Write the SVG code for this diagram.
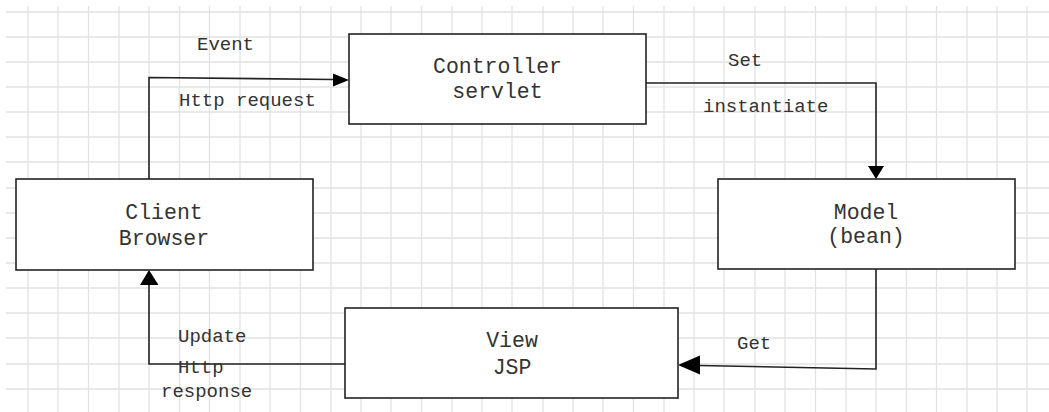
<svg xmlns="http://www.w3.org/2000/svg" width="1049" height="412" viewBox="0 0 1049 412">
  <defs>
    <style>
      .grid line { stroke: #e2e2e2; stroke-width: 1.3; }
      .box { fill: #ffffff; stroke: #222222; stroke-width: 1.6; }
      .node-text { font-family: "Liberation Mono", "DejaVu Sans Mono", monospace; font-size: 21.5px; fill: #333333; text-anchor: middle; }
      .label { font-family: "Liberation Mono", "DejaVu Sans Mono", monospace; font-size: 19px; fill: #333333; }
      .wire { fill: none; stroke: #222222; stroke-width: 1.6; }
      .head { fill: #000000; stroke: none; }
    </style>
  </defs>

  <rect width="1049" height="412" fill="#ffffff"/>

  <!-- background grid -->
  <g class="grid">
    <line x1="6" y1="12" x2="1049" y2="12"/>
    <line x1="6" y1="37" x2="1049" y2="37"/>
    <line x1="6" y1="62" x2="1049" y2="62"/>
    <line x1="6" y1="87" x2="1049" y2="87"/>
    <line x1="6" y1="112" x2="1049" y2="112"/>
    <line x1="6" y1="137" x2="1049" y2="137"/>
    <line x1="6" y1="162" x2="1049" y2="162"/>
    <line x1="6" y1="188" x2="1049" y2="188"/>
    <line x1="6" y1="213" x2="1049" y2="213"/>
    <line x1="6" y1="238" x2="1049" y2="238"/>
    <line x1="6" y1="263" x2="1049" y2="263"/>
    <line x1="6" y1="288" x2="1049" y2="288"/>
    <line x1="6" y1="313" x2="1049" y2="313"/>
    <line x1="6" y1="338" x2="1049" y2="338"/>
    <line x1="6" y1="364" x2="1049" y2="364"/>
    <line x1="6" y1="389" x2="1049" y2="389"/>

    <line x1="28" y1="6" x2="28" y2="412"/>
    <line x1="58" y1="6" x2="58" y2="412"/>
    <line x1="88.5" y1="6" x2="88.5" y2="412"/>
    <line x1="119" y1="6" x2="119" y2="412"/>
    <line x1="149" y1="6" x2="149" y2="412"/>
    <line x1="179.5" y1="6" x2="179.5" y2="412"/>
    <line x1="209.5" y1="6" x2="209.5" y2="412"/>
    <line x1="240" y1="6" x2="240" y2="412"/>
    <line x1="270" y1="6" x2="270" y2="412"/>
    <line x1="300.5" y1="6" x2="300.5" y2="412"/>
    <line x1="331" y1="6" x2="331" y2="412"/>
    <line x1="361" y1="6" x2="361" y2="412"/>
    <line x1="391" y1="6" x2="391" y2="412"/>
    <line x1="421.5" y1="6" x2="421.5" y2="412"/>
    <line x1="452" y1="6" x2="452" y2="412"/>
    <line x1="482" y1="6" x2="482" y2="412"/>
    <line x1="512" y1="6" x2="512" y2="412"/>
    <line x1="543" y1="6" x2="543" y2="412"/>
    <line x1="573" y1="6" x2="573" y2="412"/>
    <line x1="603" y1="6" x2="603" y2="412"/>
    <line x1="633.5" y1="6" x2="633.5" y2="412"/>
    <line x1="664" y1="6" x2="664" y2="412"/>
    <line x1="694" y1="6" x2="694" y2="412"/>
    <line x1="724" y1="6" x2="724" y2="412"/>
    <line x1="755" y1="6" x2="755" y2="412"/>
    <line x1="785" y1="6" x2="785" y2="412"/>
    <line x1="815.5" y1="6" x2="815.5" y2="412"/>
    <line x1="846" y1="6" x2="846" y2="412"/>
    <line x1="876" y1="6" x2="876" y2="412"/>
    <line x1="906.5" y1="6" x2="906.5" y2="412"/>
    <line x1="936.5" y1="6" x2="936.5" y2="412"/>
    <line x1="967" y1="6" x2="967" y2="412"/>
    <line x1="997" y1="6" x2="997" y2="412"/>
    <line x1="1027" y1="6" x2="1027" y2="412"/>
  </g>

  <!-- connectors -->
  <g id="connectors">
    <!-- Client -> Controller -->
    <polyline class="wire" points="149,179 149,77.5 334,79.5"/>
    <polygon class="head" points="349,80 333,73.5 333,86.5"/>
    <text class="label" x="197" y="50">Event</text>
    <text class="label" x="179" y="106">Http request</text>

    <!-- Controller -> Model -->
    <polyline class="wire" points="646,83 876,83 876,166"/>
    <polygon class="head" points="876,179 868,166 884,166"/>
    <text class="label" x="728" y="66">Set</text>
    <text class="label" x="703" y="112">instantiate</text>

    <!-- Model -> View -->
    <polyline class="wire" points="876,269 876,369 699,365.5"/>
    <polygon class="head" points="678,365 700,355.5 700,374.5"/>
    <text class="label" x="737" y="349">Get</text>

    <!-- View -> Client -->
    <polyline class="wire" points="345,364 149,364 149,284"/>
    <polygon class="head" points="149,270 140,285 158.5,285"/>
    <text class="label" x="178" y="342">Update</text>
    <text class="label" x="178" y="373">Http</text>
    <text class="label" x="161" y="397">response</text>
  </g>

  <g id="controller">
    <rect class="box" x="349" y="34" width="297" height="90"/>
    <text class="node-text" x="497.5" y="73">Controller</text>
    <text class="node-text" x="497.5" y="98">servlet</text>
  </g>

  <g id="client">
    <rect class="box" x="16" y="179" width="297" height="91"/>
    <text class="node-text" x="164" y="219">Client</text>
    <text class="node-text" x="164" y="245">Browser</text>
  </g>

  <g id="model">
    <rect class="box" x="718" y="179" width="297" height="90"/>
    <text class="node-text" x="866" y="219">Model</text>
    <text class="node-text" x="866" y="243">(bean)</text>
  </g>

  <g id="view">
    <rect class="box" x="345" y="308" width="333" height="90"/>
    <text class="node-text" x="512" y="347">View</text>
    <text class="node-text" x="512" y="374">JSP</text>
  </g>
</svg>
